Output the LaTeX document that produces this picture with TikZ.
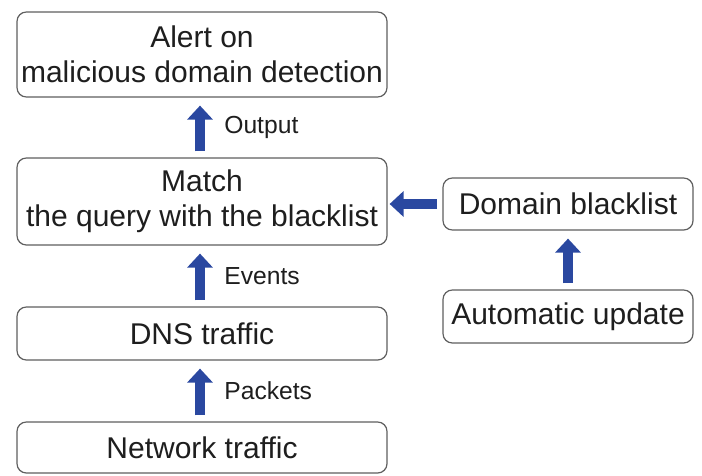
\documentclass[tikz,border=0pt]{standalone}
\usepackage{fontspec}
\setmainfont{Liberation Sans}
\usetikzlibrary{arrows.meta}
\definecolor{arrowblue}{RGB}{42,72,160}
\definecolor{boxline}{RGB}{95,95,95}
\definecolor{txt}{RGB}{30,30,30}
\begin{document}
\begin{tikzpicture}[x=0.75pt,y=-0.75pt,
  box/.style={draw=boxline, line width=0.9pt, rounded corners=7pt, fill=white,
    align=center, text=txt, font=\fontsize{22.5pt}{26.25pt}\selectfont, inner sep=0pt},
  bigarrow/.style={draw=arrowblue, line width=7.5pt,
    -{Triangle[width=18.75pt,length=10.5pt]}, shorten <=4.5pt, shorten >=6pt},
  lbl/.style={anchor=west, inner sep=0pt, text=txt, font=\fontsize{18.5pt}{21pt}\selectfont, xshift=14.5pt}
]
\useasboundingbox (0,0) rectangle (702,475);
\node[box, minimum width=277.5pt, minimum height=63.75pt] (alert) at (202,54.5) {Alert on\\malicious domain detection};
\node[box, minimum width=277.5pt, minimum height=65.25pt] (match) at (202,201.5) {Match\\the query with the blacklist};
\node[box, minimum width=277.5pt, minimum height=39.75pt] (dns) at (202,333.5) {DNS traffic};
\node[box, minimum width=277.5pt, minimum height=38.25pt] (net) at (202,447.5) {Network traffic};
\node[box, minimum width=187.5pt, minimum height=39pt] (bl) at (568,204) {Domain blacklist};
\node[box, minimum width=187.5pt, minimum height=39.75pt] (auto) at (568,316.5) {Automatic update};

\draw[bigarrow] ([xshift=-1.5pt]match.north) -- node[lbl] {Output} ([xshift=-1.5pt]alert.south);
\draw[bigarrow] ([xshift=-1.5pt]dns.north) -- node[lbl] {Events} ([xshift=-1.5pt]match.south);
\draw[bigarrow] ([xshift=-1.5pt]net.north) -- node[lbl] {Packets} ([xshift=-1.5pt]dns.south);
\draw[bigarrow, shorten <=4pt, shorten >=1.5pt] (bl.west) -- (match.east |- bl.west);
\draw[bigarrow] (auto.north) -- (bl.south);
\end{tikzpicture}
\end{document}
